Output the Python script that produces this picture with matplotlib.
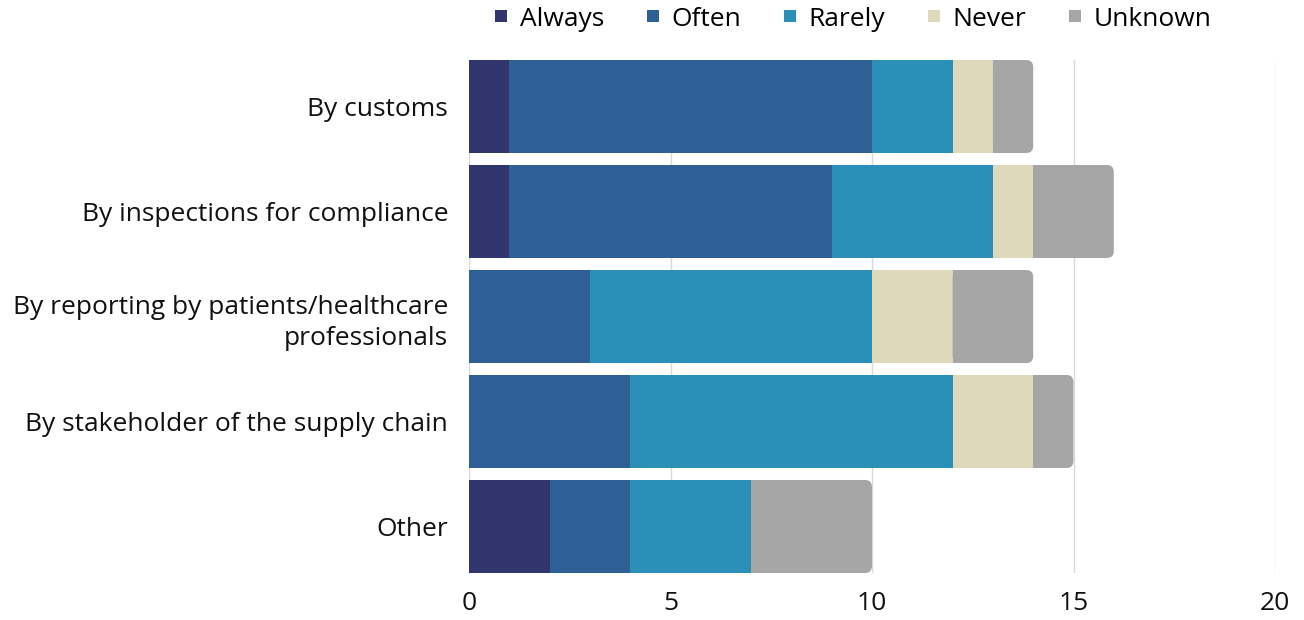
import matplotlib
matplotlib.use("Agg")
import matplotlib.pyplot as plt
from matplotlib.patches import FancyBboxPatch, Rectangle
from matplotlib.lines import Line2D
import numpy as np

plt.rcParams['font.family'] = ['Open Sans', 'DejaVu Sans']

categories = [
    "By customs",
    "By inspections for compliance",
    "By reporting by patients/healthcare\nprofessionals",
    "By stakeholder of the supply chain",
    "Other",
]
series_names = ["Always", "Often", "Rarely", "Never", "Unknown"]
always = [1, 1, 0, 0, 2]
often = [9, 8, 3, 4, 2]
rarely = [2, 4, 7, 8, 3]
never = [1, 1, 2, 2, 0]
unknown = [1, 2, 2, 1, 3]
colors = ["#31356e", "#2e6096", "#2c8fb8", "#dfd9bc", "#a6a6a6"]
x_ticks = [0, 5, 10, 15, 20]

values = np.array([always, often, rarely, never, unknown], dtype=float)

fig = plt.figure(figsize=(13.04, 6.2), dpi=100)
ax = fig.add_axes([469 / 1304, 1 - 573 / 620, 806 / 1304, 513 / 620])

bar_h = 0.886
y = np.arange(len(categories))
left = np.zeros(len(categories))
for i, (name, col) in enumerate(zip(series_names, colors)):
    ax.barh(y, values[i], left=left, height=bar_h, color=col, linewidth=0, zorder=2)
    left += values[i]

# round the right end of each stacked bar
px_per_x = 806 / 20
px_per_y = 105
r_px = 7
rx = r_px / px_per_x
ry = r_px / px_per_y
for j in range(len(categories)):
    nz = [i for i in range(len(series_names)) if values[i, j] > 0]
    last = nz[-1]
    start = values[:last, j].sum()
    end = values[:last + 1, j].sum()
    # cover the square end with white, then draw the rounded segment
    ax.add_patch(Rectangle((start, j - bar_h / 2), end - start, bar_h,
                           facecolor="white", linewidth=0, zorder=3))
    ax.add_patch(FancyBboxPatch((start, j - bar_h / 2), end - start, bar_h,
                                boxstyle=f"round,pad=0,rounding_size={rx}",
                                mutation_aspect=ry / rx,
                                facecolor=colors[last], linewidth=0, zorder=4))
    ax.add_patch(Rectangle((start, j - bar_h / 2), (end - start) / 2, bar_h,
                           facecolor=colors[last], linewidth=0, zorder=5))

ax.set_xlim(0, 20)
ax.set_ylim(len(categories) - 1 + bar_h / 2, -bar_h / 2)
ax.set_xticks(x_ticks)
ax.set_yticks(y)
ax.set_yticklabels(categories, ha="right", multialignment="right", linespacing=1.35)
ax.tick_params(axis="both", length=0, labelsize=19, colors="#111111")
ax.tick_params(axis="y", pad=15)
ax.tick_params(axis="x", pad=13)
ax.xaxis.grid(True, color="#d9d9d9", linewidth=1, zorder=0)
ax.set_axisbelow(True)
for s in ax.spines.values():
    s.set_visible(False)

handles = [Line2D([], [], marker="s", linestyle="none", markersize=9,
                  markerfacecolor=c, markeredgewidth=0) for c in colors]
fig.legend(handles, series_names, loc="center", bbox_to_anchor=(851 / 1304, 1 - 19 / 620),
           ncol=5, frameon=False, fontsize=19, handletextpad=0.3,
           columnspacing=1.45, handlelength=0.8)

fig.savefig("out.png", dpi=100)
